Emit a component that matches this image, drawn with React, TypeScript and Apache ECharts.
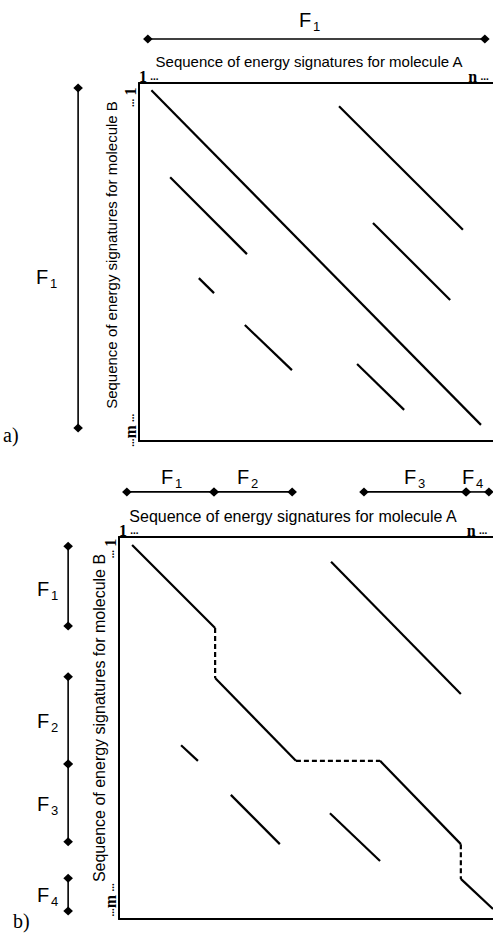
import React, { useEffect, useRef } from "react";
import * as echarts from "echarts";

// ---------- Data (positions along the sequences, in % of sequence length) ----------
// Panel a: matching diagonal runs [start, end] as [x(A), y(B)]
const panelASegments: number[][][] = [
  [[3.5, 2], [96.6, 95.5]],
  [[56.5, 6.5], [91.5, 41]],
  [[8.8, 26.3], [30.5, 47.8]],
  [[66.1, 39.1], [87.9, 60.6]],
  [[16.9, 54.5], [21.2, 58.7]],
  [[29.9, 67.6], [43.2, 80.2]],
  [[61.6, 78.5], [74.9, 91.3]],
];

// Panel b: the chained alignment path (solid runs joined by dashed gaps)
const panelBPathX = [3.5, 25.7, 25.7, 47.3, 69.8, 91.4, 91.4, 100];
const panelBPathY = [2.1, 23.8, 36.9, 58.6, 58.6, 80.4, 89.5, 97.4];
const panelBPathDashed = [false, true, false, true, false, true, false];

// Panel b: other diagonal runs
const panelBSegments: number[][][] = [
  [[56.7, 6.5], [91.4, 41.1]],
  [[16.6, 54.5], [21.1, 58.6]],
  [[29.9, 67.5], [43, 80.4]],
  [[56.4, 72.3], [69.8, 84.8]],
];

// Fragment brackets (positions along the sequences)
const aTopBracket = [2.5, 97.7];
const aTopBracketLevel = -12.3;
const aLeftBracket = [1.4, 96.4];
const aLeftBracketLevel = -17.2;
const bTopBrackets = [[2.1, 25.4, 46.3], [65.5, 92.8, 98.9]];
const bTopBracketLevel = -11.8;
const bLeftBrackets = [[2.4, 23.3], [36.6, 59.4, 79.8], [89.3, 97.9]];
const bLeftBracketLevel = -13.6;

// Tick labels
const aXTickValues = [0, 93];
const aXTickLabels = ["{n|1} {d|...}", "{n|n} {d|...}"];
const aYTickValues = [4, 97];
const aYTickLabels = ["{d|...} {n|1}", "{d|...}{n|m} {d|...}"];
const bXTickValues = [0, 93];
const bXTickLabels = ["{n|1} {d|...}", "{n|n} {d|...}"];
const bYTickValues = [3, 95];
const bYTickLabels = ["{d|...} {n|1}", "{d|...}{n|m} {d|...}"];

const xTitle = "Sequence of energy signatures for molecule A";
const yTitle = "Sequence of energy signatures for molecule B";

// ---------- Styles ----------
const SANS = "Liberation Sans, Arial, sans-serif";
const SERIF = "Liberation Serif, Times New Roman, serif";
const richTick = {
  n: { fontFamily: SERIF, fontWeight: "bold", fontSize: 16, color: "#000", lineHeight: 11 },
  d: { fontFamily: SERIF, fontWeight: "bold", fontSize: 11, color: "#000", lineHeight: 11 },
};

function tickFormatter(values: number[], labels: string[]) {
  return (v: number) => {
    const i = values.findIndex((x) => Math.abs(x - v) < 1e-6);
    return i >= 0 ? labels[i] : "";
  };
}

function segSeries(points: number[][], xi: number, yi: number, dashed: boolean) {
  return {
    type: "line",
    xAxisIndex: xi,
    yAxisIndex: yi,
    data: points,
    symbol: "none",
    showSymbol: false,
    silent: true,
    clip: false,
    lineStyle: { color: "#000", width: 2.2, type: dashed ? [5, 3] : "solid", cap: "butt" },
  };
}

// bracket rows: [x1, y1, x2, y2]
function bracketRows(points: number[][]) {
  const rows: number[][] = [];
  for (let i = 0; i < points.length - 1; i++) {
    rows.push([points[i][0], points[i][1], points[i + 1][0], points[i + 1][1]]);
  }
  return rows;
}

function bracketSeries(rows: number[][], xi: number, yi: number) {
  return {
    type: "custom",
    xAxisIndex: xi,
    yAxisIndex: yi,
    silent: true,
    clip: false,
    data: rows,
    encode: { x: 0, y: 1 },
    renderItem: (_params: any, api: any) => {
      const p1 = api.coord([api.value(0), api.value(1)]);
      const p2 = api.coord([api.value(2), api.value(3)]);
      const dia = (p: number[]) => ({
        type: "polygon",
        shape: {
          points: [
            [p[0], p[1] - 4.5],
            [p[0] + 4.8, p[1]],
            [p[0], p[1] + 4.5],
            [p[0] - 4.8, p[1]],
          ],
        },
        style: { fill: "#000" },
      });
      return {
        type: "group",
        children: [
          {
            type: "line",
            shape: { x1: p1[0], y1: p1[1], x2: p2[0], y2: p2[1] },
            style: { stroke: "#000", lineWidth: 1.6 },
          },
          dia(p1),
          dia(p2),
        ],
      };
    },
  };
}

function fLabel(x: number, y: number, sub: string) {
  return {
    type: "group",
    children: [
      {
        type: "text",
        x,
        y,
        style: { text: "F", fontSize: 20, fontFamily: SANS, fill: "#000", verticalAlign: "middle", align: "left" },
      },
      {
        type: "text",
        x: x + 14,
        y: y + 6,
        style: { text: sub, fontSize: 13, fontFamily: SANS, fill: "#000", verticalAlign: "middle", align: "left" },
      },
    ],
  };
}

function xAxes(grid: number, values: number[], labels: string[], nameGap: number, fontSize: number, padRight: number) {
  return [
    {
      gridIndex: grid,
      type: "value",
      min: 0,
      max: 100,
      position: "top",
      name: xTitle,
      nameLocation: "middle",
      nameGap,
      nameMoveOverlap: false,
      nameTextStyle: { fontFamily: SANS, fontSize, color: "#000", lineHeight: fontSize, padding: [0, padRight, 0, 0] },
      axisLine: { show: true, lineStyle: { color: "#000", width: 2 } },
      axisTick: { show: false },
      splitLine: { show: false },
      axisLabel: {
        show: true,
        customValues: values,
        formatter: tickFormatter(values, labels),
        align: "left",
        margin: 1,
        rich: richTick,
      },
    },
    {
      gridIndex: grid,
      type: "value",
      min: 0,
      max: 100,
      position: "bottom",
      axisLine: { show: true, lineStyle: { color: "#000", width: 2 } },
      axisTick: { show: false },
      splitLine: { show: false },
      axisLabel: { show: false },
    },
  ];
}

function yAxis(grid: number, values: number[], labels: string[], nameGap: number, fontSize: number, padLeft: number) {
  return {
    gridIndex: grid,
    type: "value",
    min: 0,
    max: 100,
    inverse: true,
    position: "left",
    name: yTitle,
    nameLocation: "middle",
    nameGap,
    nameMoveOverlap: false,
    nameTextStyle: { fontFamily: SANS, fontSize, color: "#000", padding: [0, 0, 0, padLeft] },
    axisLine: { show: true, lineStyle: { color: "#000", width: 2 } },
    axisTick: { show: false },
    splitLine: { show: false },
    axisLabel: {
      show: true,
      customValues: values,
      formatter: tickFormatter(values, labels),
      rotate: 90,
      margin: 3,
      rich: richTick,
    },
  };
}

function buildOption() {
  const series: any[] = [];
  // panel a
  panelASegments.forEach((s) => series.push(segSeries(s, 0, 0, false)));
  // panel b path
  for (let i = 0; i < panelBPathX.length - 1; i++) {
    series.push(
      segSeries(
        [
          [panelBPathX[i], panelBPathY[i]],
          [panelBPathX[i + 1], panelBPathY[i + 1]],
        ],
        2,
        1,
        panelBPathDashed[i]
      )
    );
  }
  panelBSegments.forEach((s) => series.push(segSeries(s, 2, 1, false)));

  // brackets
  const aRows = [
    ...bracketRows(aTopBracket.map((v) => [v, aTopBracketLevel])),
    ...bracketRows(aLeftBracket.map((v) => [aLeftBracketLevel, v])),
  ];
  const bRows: number[][] = [];
  bTopBrackets.forEach((b) => bRows.push(...bracketRows(b.map((v) => [v, bTopBracketLevel]))));
  bLeftBrackets.forEach((b) => bRows.push(...bracketRows(b.map((v) => [bLeftBracketLevel, v]))));
  series.push(bracketSeries(aRows, 0, 0));
  series.push(bracketSeries(bRows, 2, 1));

  return {
    animation: false,
    backgroundColor: "#fff",
    textStyle: { fontFamily: SANS },
    grid: [
      { left: 139, top: 83, width: 354, height: 358 },
      { left: 119, top: 537, width: 374, height: 382 },
    ],
    xAxis: [
      ...xAxes(0, aXTickValues, aXTickLabels, 14, 15, 14),
      ...xAxes(1, bXTickValues, bXTickLabels, 13, 16, 26),
    ],
    yAxis: [
      yAxis(0, aYTickValues, aYTickLabels, 20, 15, 14),
      yAxis(1, bYTickValues, bYTickLabels, 12, 16, 20),
    ],
    series,
    graphic: [
      fLabel(299, 20, "1"),
      fLabel(36, 277, "1"),
      fLabel(161, 477, "1"),
      fLabel(237, 477, "2"),
      fLabel(404, 477, "3"),
      fLabel(462, 477, "4"),
      fLabel(37, 589, "1"),
      fLabel(37, 721, "2"),
      fLabel(37, 804, "3"),
      fLabel(37, 895, "4"),
      {
        type: "text",
        x: 3,
        y: 435,
        style: { text: "a)", fontSize: 20, fontFamily: SERIF, fill: "#000", verticalAlign: "middle" },
      },
      {
        type: "text",
        x: 13,
        y: 921,
        style: { text: "b)", fontSize: 20, fontFamily: SERIF, fill: "#000", verticalAlign: "middle" },
      },
    ],
  };
}

export default function App() {
  const ref = useRef<HTMLDivElement>(null);
  useEffect(() => {
    if (!ref.current) return;
    const chart = echarts.init(ref.current, null, { renderer: "svg" });
    chart.setOption(buildOption() as any);
    return () => chart.dispose();
  }, []);
  return (
    <div
      ref={ref}
      style={{ position: "absolute", left: 0, top: 0, width: 493, height: 935, background: "#fff" }}
    />
  );
}
